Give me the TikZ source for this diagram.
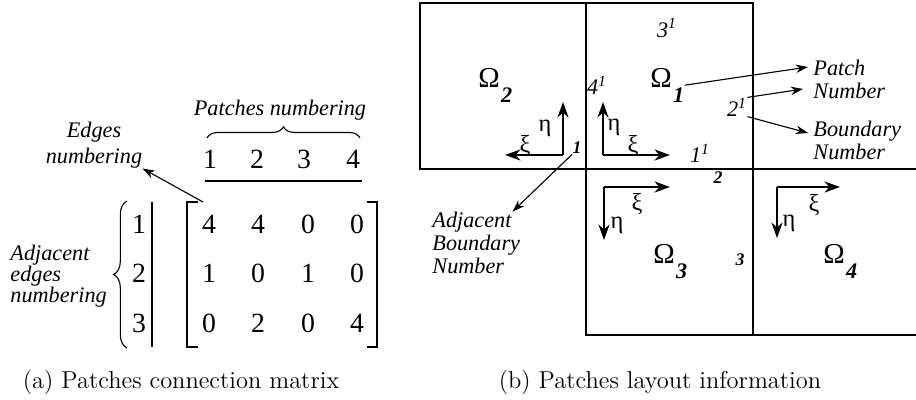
\documentclass[tikz,border=0pt]{standalone}
\usepackage{fontspec}
\newfontfamily\figfont{Liberation Serif}
\usetikzlibrary{arrows.meta,positioning,calc,decorations.pathreplacing}

% patch label: Omega with a bold italic index set low
\newcommand\omlabel[1]{Ω\kern0.5pt\raisebox{-7pt}{\bfseries\itshape\fontsize{10}{10}\selectfont #1}}

\begin{document}
\begin{tikzpicture}[
  x=0.45pt, y=-0.45pt,
  >=Stealth,
  num/.style={inner sep=0pt, font=\figfont\fontsize{12.5}{12.5}\selectfont},
  note/.style={inner sep=0pt, align=left,
               font=\figfont\itshape\fontsize{10}{10.4}\selectfont},
  bnum/.style={inner sep=0pt, font=\figfont\itshape\fontsize{10}{10}\selectfont},
  adjnum/.style={inner sep=0pt, font=\figfont\bfseries\itshape\fontsize{8}{8}\selectfont},
  axlbl/.style={inner sep=0pt, font=\figfont\fontsize{11}{11}\selectfont},
  patchlbl/.style={inner sep=0pt, anchor=base west,
                   font=\figfont\fontsize{13}{13}\selectfont},
  wall/.style={line width=0.9pt},
  thin/.style={line width=0.5pt},
  axis/.style={-{Stealth[length=7pt,width=5pt]}, line width=0.9pt},
  pointer/.style={-{Stealth[length=5.5pt,width=3.8pt]}, line width=0.5pt},
  caption/.style={inner sep=0pt, anchor=base, font=\fontsize{11}{12}\selectfont},
]
\useasboundingbox (0,0) rectangle (916,399);

%%---- (a) Patches connection matrix ---------------------------------
\node[note, align=center, font=\figfont\itshape\fontsize{10}{11.7}\selectfont]
  (edgesLbl) at (94,145) {Edges\\numbering};
\node[note] (patchesLbl) at (280,110) {Patches numbering};

% column headers
\foreach \c/\x in {1/210,2/257,3/304,4/353}
  \node[num] (h\c) at (\x,159) {\c};
\draw[decorate, decoration={brace, amplitude=5pt}, thin] (207,138) -- (360,138);
\draw[thin] (205,181) -- (362,181);

% matrix entries
\foreach \r/\y/\a/\b/\cc/\d in {1/224/4/4/0/0, 2/273/1/0/1/0, 3/323/0/2/0/4} {
  \node[num] (m\r1) at (209,\y) {\a};
  \node[num] (m\r2) at (258,\y) {\b};
  \node[num] (m\r3) at (308,\y) {\cc};
  \node[num] (m\r4) at (357,\y) {\d};
}
\draw[thin] (198,202) -- (187,202) -- (187,347) -- (198,347);
\draw[thin] (367,202) -- (377,202) -- (377,347) -- (367,347);

% row labels
\foreach \r/\y in {1/224,2/273,3/323}
  \node[num] (r\r) at (139,\y) {\r};
\draw[thin] (152,202) -- (152,347);
\draw[decorate, decoration={brace, amplitude=6pt}, thin] (127,348) -- (127,201);
\node[note, anchor=west, font=\figfont\itshape\fontsize{10}{9.5}\selectfont]
  (adjEdgesLbl) at (10,276) {Adjacent\\edges\\numbering};

\coordinate (mTop) at (203,202);
\draw[pointer] (mTop) -- (edgesLbl.south east);

\node[caption] (capA) at (181,388) {(a) Patches connection matrix};

%%---- (b) Patches layout information ---------------------------------
\draw[wall] (916,169) -- (420,169) -- (420,3) -- (753,3) -- (753,335);
\draw[wall] (586,3) -- (586,335) -- (916,335);

\node[patchlbl] (om2) at (478,87) {\omlabel{2}};
\node[patchlbl] (om1) at (650,87) {\omlabel{1}};
\node[patchlbl] (om3) at (653,263) {\omlabel{3}};
\node[patchlbl] (om4) at (823,263) {\omlabel{4}};

% local axes of each patch
\coordinate (o2) at (563,155);
\draw[axis] (o2) -- (563,102);
\draw[axis] (o2) -- (505,155);
\node[axlbl] (eta2) at (545,128) {η};
\node[axlbl] (xi2) at (525,146) {ξ};

\coordinate (o1) at (603,155);
\draw[axis] (o1) -- (603,102);
\draw[axis] (o1) -- (670,155);
\node[axlbl] (eta1) at (614,127) {η};
\node[axlbl] (xi1) at (633,146) {ξ};

\coordinate (o3) at (604,187);
\draw[axis] (o3) -- (670,187);
\draw[axis] (o3) -- (604,240);
\node[axlbl] (xi3) at (637,204) {ξ};
\node[axlbl] (eta3) at (617,225) {η};

\coordinate (o4) at (777,187);
\draw[axis] (o4) -- (840,187);
\draw[axis] (o4) -- (777,238);
\node[axlbl] (xi4) at (814,205) {ξ};
\node[axlbl] (eta4) at (789,223) {η};

% boundary numbers
\node[bnum] (b31) at (667,28) {3\textsuperscript{1}};
\node[bnum] (b41) at (597,85) {4\textsuperscript{1}};
\node[bnum] (b21) at (737,107) {2\textsuperscript{1}};
\node[bnum] (b11) at (700,153) {1\textsuperscript{1}};
\node[adjnum] (adj1) at (577,148) {1};
\node[adjnum] (adj2) at (718,178) {2};
\node[adjnum] (adj3) at (740,260) {3};

% annotations
\node[note, anchor=west] (notePatch) at (813,79) {Patch\\Number};
\node[note, anchor=west] (noteBnd) at (813,140) {Boundary\\Number};
\node[note, anchor=west] (noteAdj) at (432,243) {Adjacent\\Boundary\\Number};

\draw[pointer] (om1.east) -- ($(notePatch.west)+(-5,-12)$);
\draw[pointer] (b21.north east) -- ($(notePatch.west)+(-10,10)$);
\draw[pointer] (b21.south east) -- ($(noteBnd.west)+(-5,-7)$);
\draw[pointer] (adj1.south west) -- ($(noteAdj.north east)+(-8,0)$);

\node[caption] (capB) at (660,388) {(b) Patches layout information};

\end{tikzpicture}
\end{document}
